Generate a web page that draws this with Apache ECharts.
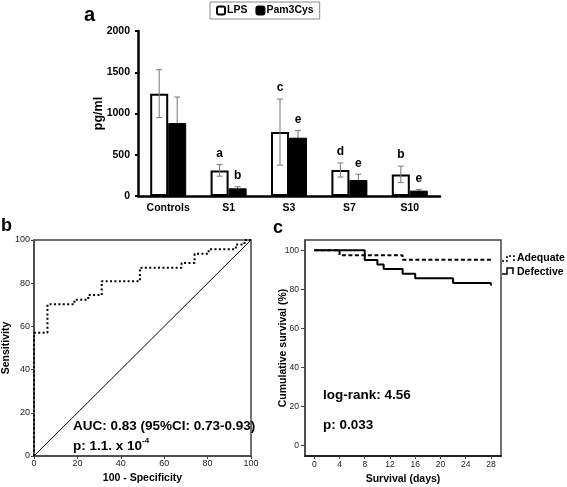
<!DOCTYPE html>
<html>
<head>
<meta charset="utf-8">
<script src="https://cdn.jsdelivr.net/npm/echarts@6/dist/echarts.min.js"></script>
<style>
html,body{margin:0;padding:0;background:#fff;}
#chart{width:567px;height:487px;}
</style>
</head>
<body>
<div id="chart"></div>
<script>
// ---------- Panel a data ----------
const categories = ['Controls', 'S1', 'S3', 'S7', 'S10'];
const lpsMean = [1240, 310, 775, 315, 262];
const lpsErr = [290, 70, 400, 85, 100];
const pamMean = [885, 93, 707, 194, 65];
const pamErr = [315, 20, 85, 70, 15];
const lpsLetters = ['', 'a', 'c', 'd', 'b'];
const pamLetters = ['', 'b', 'e', 'e', 'e'];
const yTicksA = [0, 500, 1000, 1500, 2000];

// ---------- Panel b data (ROC) ----------
const rocFpr = [0, 0, 6.2, 18.6, 25, 31.2, 48.8, 68, 74, 80.5, 93, 97, 100];
const rocTpr = [0, 57.1, 70.2, 72.3, 74.5, 80.9, 87.2, 89.4, 93.6, 95.7, 97.9, 100, 100];
const diagX = [0, 100];
const diagY = [0, 100];
const rocTicks = [0, 20, 40, 60, 80, 100];

// ---------- Panel c data (Kaplan-Meier) ----------
const daysAdequate = [0, 4, 14, 28];
const survAdequate = [100, 97.5, 95.2, 95.2];
const daysDefective = [0, 8, 10, 11, 14, 16, 22, 28, 28];
const survDefective = [100, 95, 92.7, 90.4, 88, 85.7, 83.3, 83.3, 82];
const dayTicks = [0, 4, 8, 12, 16, 20, 24, 28];
const survTicks = [0, 20, 40, 60, 80, 100];

const FONT = 'Arial, "Liberation Sans", sans-serif';
const BW = 18;

function errRender(letters, offset) {
  return function (params, api) {
    const i = api.value(0);
    const top = api.coord([i, api.value(1)]);
    const bot = api.coord([i, api.value(2)]);
    const x = top[0] + offset;
    const st = { stroke: '#777', lineWidth: 1 };
    const children = [
      { type: 'line', shape: { x1: x, y1: top[1], x2: x, y2: bot[1] }, style: st },
      { type: 'line', shape: { x1: x - 3, y1: top[1], x2: x + 3, y2: top[1] }, style: st },
      { type: 'line', shape: { x1: x - 3, y1: bot[1], x2: x + 3, y2: bot[1] }, style: st }
    ];
    if (letters[i]) {
      children.push({ type: 'text', style: { text: letters[i], x: x, y: top[1] - 11, align: 'center', verticalAlign: 'middle', fill: '#000', font: 'bold 12px ' + FONT } });
    }
    return { type: 'group', children: children };
  };
}

const chart = echarts.init(document.getElementById('chart'), null, { renderer: 'canvas' });
const plain = v => String(v);

const option = {
  animation: false,
  backgroundColor: '#fff',
  textStyle: { fontFamily: FONT },
  legend: {
    data: ['LPS', 'Pam3Cys'],
    left: 210, top: 2,
    itemWidth: 8, itemHeight: 8, itemGap: 8,
    padding: [3, 6, 3, 6],
    borderColor: '#888', borderWidth: 1,
    textStyle: { fontWeight: 'bold', fontSize: 10.5, color: '#000', padding: [0, 0, 0, -3] }
  },
  grid: [
    { left: 138, top: 31, width: 302, height: 165 },
    { left: 34, top: 240, width: 217, height: 216, show: true, borderColor: '#444', borderWidth: 1.5 },
    { left: 305, top: 240, width: 196, height: 216, show: true, borderColor: '#444', borderWidth: 1.5 }
  ],
  xAxis: [
    {
      gridIndex: 0, type: 'category', data: categories,
      axisLine: { lineStyle: { color: '#000', width: 2.5 } },
      axisTick: { length: 3, lineStyle: { color: '#000', width: 2 } },
      axisLabel: { color: '#000', fontWeight: 'bold', fontSize: 10.5, margin: 7 }
    },
    {
      gridIndex: 1, type: 'value', min: 0, max: 100, interval: 20,
      name: '100 - Specificity', nameLocation: 'middle', nameGap: 17, nameMoveOverlap: false,
      nameTextStyle: { fontWeight: 'bold', fontSize: 10.5, color: '#000' },
      axisLine: { onZero: false, lineStyle: { color: '#444', width: 1.5 } },
      axisTick: { length: 3, lineStyle: { color: '#444' } },
      axisLabel: { color: '#222', fontSize: 9, margin: 3 },
      splitLine: { show: false }
    },
    {
      gridIndex: 2, type: 'value', min: -1.47, max: 29.6,
      name: 'Survival (days)', nameLocation: 'middle', nameGap: 18, nameMoveOverlap: false,
      nameTextStyle: { fontWeight: 'bold', fontSize: 10.5, color: '#000' },
      axisLine: { onZero: false, lineStyle: { color: '#222', width: 2 } },
      axisTick: { length: 3, customValues: dayTicks, lineStyle: { color: '#444' } },
      axisLabel: { color: '#222', fontSize: 8.5, margin: 4, customValues: dayTicks, formatter: plain },
      splitLine: { show: false }
    }
  ],
  yAxis: [
    {
      gridIndex: 0, type: 'value', min: 0, max: 2000, interval: 500,
      name: 'pg/ml', nameLocation: 'middle', nameGap: 33, nameMoveOverlap: false,
      nameTextStyle: { fontWeight: 'bold', fontSize: 12.5, color: '#000' },
      axisLine: { show: true, lineStyle: { color: '#000', width: 2.5 } },
      axisTick: { show: true, length: 3, lineStyle: { color: '#000', width: 2 } },
      axisLabel: { color: '#000', fontWeight: 'bold', fontSize: 10.5, margin: 8, formatter: plain },
      splitLine: { show: false }
    },
    {
      gridIndex: 1, type: 'value', min: 0, max: 100, interval: 20,
      name: 'Sensitivity', nameLocation: 'middle', nameGap: 22, nameMoveOverlap: false,
      nameTextStyle: { fontWeight: 'bold', fontSize: 10.5, color: '#000' },
      axisLine: { show: true, onZero: false, lineStyle: { color: '#444', width: 1.5 } },
      axisTick: { show: true, length: 3, lineStyle: { color: '#444' } },
      axisLabel: { color: '#222', fontSize: 9, margin: 4 },
      splitLine: { show: false }
    },
    {
      gridIndex: 2, type: 'value', min: -5.3, max: 105.3,
      name: 'Cumulative survival (%)', nameLocation: 'middle', nameGap: 16, nameMoveOverlap: false,
      nameTextStyle: { fontWeight: 'bold', fontSize: 10.5, color: '#000' },
      axisLine: { show: true, onZero: false, lineStyle: { color: '#444', width: 1.5 } },
      axisTick: { show: true, length: 4, customValues: survTicks, lineStyle: { color: '#444' } },
      axisLabel: { color: '#222', fontSize: 8.5, margin: 6, customValues: survTicks, formatter: plain },
      splitLine: { show: false }
    }
  ],
  series: [
    {
      name: 'LPS', type: 'bar', xAxisIndex: 0, yAxisIndex: 0, z: 2,
      data: lpsMean, barWidth: BW, barGap: '0%',
      itemStyle: { color: '#fff', borderColor: '#000', borderWidth: 2 }
    },
    {
      name: 'Pam3Cys', type: 'bar', xAxisIndex: 0, yAxisIndex: 0, z: 2,
      data: pamMean, barWidth: BW, barGap: '0%',
      itemStyle: { color: '#000', borderColor: '#000', borderWidth: 1 }
    },
    {
      name: 'errLPS', type: 'custom', xAxisIndex: 0, yAxisIndex: 0, z: 3,
      renderItem: errRender(lpsLetters, -BW / 2),
      data: categories.map((c, i) => [i, lpsMean[i] + lpsErr[i], lpsMean[i] - lpsErr[i]])
    },
    {
      name: 'errPam', type: 'custom', xAxisIndex: 0, yAxisIndex: 0, z: 1,
      renderItem: errRender(pamLetters, BW / 2),
      data: categories.map((c, i) => [i, pamMean[i] + pamErr[i], pamMean[i] - pamErr[i]])
    },
    {
      name: 'diag', type: 'line', xAxisIndex: 1, yAxisIndex: 1,
      data: diagX.map((x, i) => [x, diagY[i]]), showSymbol: false,
      lineStyle: { color: '#000', width: 1 }
    },
    {
      name: 'ROC', type: 'line', xAxisIndex: 1, yAxisIndex: 1, step: 'end',
      data: rocFpr.map((x, i) => [x, rocTpr[i]]), showSymbol: false,
      lineStyle: { color: '#000', width: 2, type: [2, 2.4], cap: 'butt' }
    },
    {
      name: 'Adequate', type: 'line', xAxisIndex: 2, yAxisIndex: 2, step: 'end',
      data: daysAdequate.map((x, i) => [x, survAdequate[i]]), showSymbol: false,
      lineStyle: { color: '#000', width: 2, type: [4, 2.5], cap: 'butt' }
    },
    {
      name: 'Defective', type: 'line', xAxisIndex: 2, yAxisIndex: 2, step: 'end',
      data: daysDefective.map((x, i) => [x, survDefective[i]]), showSymbol: false,
      lineStyle: { color: '#000', width: 2 }
    }
  ],
  graphic: [
    { type: 'text', left: 84, top: 5, style: { text: 'a', fill: '#000', font: 'bold 20px ' + FONT } },
    { type: 'text', left: 1, top: 217, style: { text: 'b', fill: '#000', font: 'bold 18px ' + FONT } },
    { type: 'text', left: 273, top: 219, style: { text: 'c', fill: '#000', font: 'bold 18px ' + FONT } },
    { type: 'text', x: 73, y: 426, style: { text: 'AUC: 0.83 (95%CI: 0.73-0.93)', fill: '#000', font: 'bold 13.5px ' + FONT, verticalAlign: 'middle' } },
    { type: 'text', x: 73, y: 446, style: {
        text: '{a|p: 1.1. x 10}{s|-4}', verticalAlign: 'middle',
        rich: { a: { font: 'bold 13.5px ' + FONT, fill: '#000', lineHeight: 18 }, s: { font: 'bold 8px ' + FONT, fill: '#000', verticalAlign: 'top' } }
    } },
    { type: 'text', x: 323, y: 395, style: { text: 'log-rank: 4.56', fill: '#000', font: 'bold 13.5px ' + FONT, verticalAlign: 'middle' } },
    { type: 'text', x: 323, y: 425, style: { text: 'p: 0.033', fill: '#000', font: 'bold 13.5px ' + FONT, verticalAlign: 'middle' } },
    { type: 'polyline', shape: { points: [[502, 261], [507, 261], [507, 256], [514, 256], [514, 261]] }, style: { stroke: '#000', lineWidth: 1.5, lineDash: [2, 2], fill: null } },
    { type: 'text', x: 517, y: 258, style: { text: 'Adequate', fill: '#000', font: 'bold 10.5px ' + FONT, verticalAlign: 'middle' } },
    { type: 'polyline', shape: { points: [[502, 274], [507, 274], [507, 268], [513, 268], [513, 274]] }, style: { stroke: '#000', lineWidth: 1.5, fill: null } },
    { type: 'text', x: 517, y: 272, style: { text: 'Defective', fill: '#000', font: 'bold 10.5px ' + FONT, verticalAlign: 'middle' } }
  ]
};
chart.setOption(option);
</script>
</body>
</html>
